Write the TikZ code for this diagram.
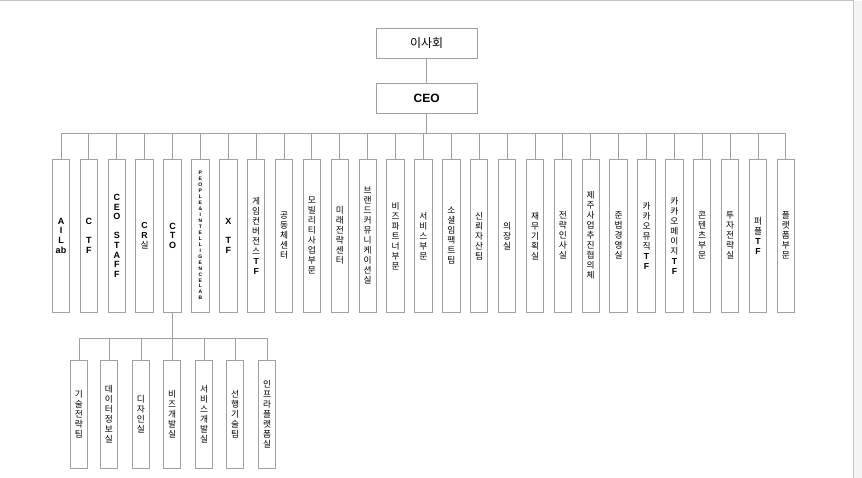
\documentclass[tikz,border=0pt]{standalone}
\usepackage{fontspec}
\setmainfont{Noto Sans CJK KR}
\newfontfamily\latfont{Liberation Sans}
\definecolor{boxgray}{HTML}{A0A0A0}
\definecolor{pagegray}{HTML}{C4C4C4}
\definecolor{sidegray}{HTML}{F4F4F4}
\newcommand\eng[1]{{\latfont\bfseries #1}}
\tikzset{
  unit/.style={draw=boxgray, line width=1pt, minimum width=17.4pt, minimum height=153.3pt,
    inner sep=0pt, align=center, font=\fontsize{8.7}{10}\selectfont},
  subunit/.style={unit, minimum height=108pt},
  latin/.style={font=\fontsize{9}{9.6}\selectfont\latfont\bfseries},
  head/.style={draw=boxgray, line width=1pt, minimum width=101.3pt, minimum height=30pt,
    inner sep=0pt, font=\fontsize{12}{14}\selectfont},
  link/.style={draw=boxgray, line width=1pt},
}
\begin{document}
\begin{tikzpicture}[x=1pt, y=-1pt]
    \useasboundingbox (0,0) rectangle (862,478) ;
    % page edge
    \fill [sidegray] (853.5,1) rectangle (862,478) ;
    \draw [pagegray, line width=1pt] (0,1) -- (853,1) -- (853,478) ;

    \node [head] (board) at (426.7,43.3) {이사회} ;
    \node [head, font=\fontsize{12}{14}\selectfont\latfont\bfseries] (ceo) at (426.7,98.3) {CEO} ;

    % first row
    \node [unit, latin] (ailab) at (61.0,235.7) {A\\I\\L\\ab} ;
    \node [unit, latin] (ctf) at (88.9,235.7) {C\\~\\T\\F} ;
    \node [unit, latin] (staff) at (116.8,235.7) {C\\E\\O\\~\\S\\T\\A\\F\\F} ;
    \node [unit] (cr) at (144.6,235.7) {\eng{C}\\\eng{R}\\실} ;
    \node [unit, latin] (cto) at (172.5,235.7) {C\\T\\O} ;
    \node [unit, font=\fontsize{5}{5.95}\selectfont\latfont\bfseries] (pil) at (200.4,235.7)
        {P\\E\\O\\P\\L\\E\\\&\\I\\N\\T\\E\\L\\L\\I\\G\\E\\N\\C\\E\\L\\A\\B} ;
    \node [unit, latin] (xtf) at (228.3,235.7) {X\\~\\T\\F} ;
    \node [unit] (game) at (256.2,235.7) {게\\임\\컨\\버\\전\\스\\\eng{T}\\\eng{F}} ;
    \node [unit] (comm) at (284.0,235.7) {공\\동\\체\\센\\터} ;
    \node [unit] (mobil) at (311.9,235.7) {모\\빌\\리\\티\\사\\업\\부\\문} ;
    \node [unit] (future) at (339.8,235.7) {미\\래\\전\\략\\센\\터} ;
    \node [unit] (brand) at (367.7,235.7) {브\\랜\\드\\커\\뮤\\니\\케\\이\\션\\실} ;
    \node [unit] (biz) at (395.6,235.7) {비\\즈\\파\\트\\너\\부\\문} ;
    \node [unit] (service) at (423.4,235.7) {서\\비\\스\\부\\문} ;
    \node [unit] (social) at (451.3,235.7) {소\\셜\\임\\팩\\트\\팀} ;
    \node [unit] (trust) at (479.2,235.7) {신\\뢰\\자\\산\\팀} ;
    \node [unit] (chair) at (507.1,235.7) {의\\장\\실} ;
    \node [unit] (finance) at (535.0,235.7) {재\\무\\기\\획\\실} ;
    \node [unit] (hr) at (562.8,235.7) {전\\략\\인\\사\\실} ;
    \node [unit] (jeju) at (590.7,235.7) {제\\주\\사\\업\\추\\진\\협\\의\\체} ;
    \node [unit] (comply) at (618.6,235.7) {준\\법\\경\\영\\실} ;
    \node [unit] (music) at (646.5,235.7) {카\\카\\오\\뮤\\직\\\eng{T}\\\eng{F}} ;
    \node [unit] (page) at (674.4,235.7) {카\\카\\오\\페\\이\\지\\\eng{T}\\\eng{F}} ;
    \node [unit] (content) at (702.2,235.7) {콘\\텐\\츠\\부\\문} ;
    \node [unit] (invest) at (730.1,235.7) {투\\자\\전\\략\\실} ;
    \node [unit] (purple) at (758.0,235.7) {퍼\\플\\\eng{T}\\\eng{F}} ;
    \node [unit] (plat) at (785.9,235.7) {플\\랫\\폼\\부\\문} ;

    % second row under CTO
    \node [subunit] (tech) at (79.0,414.3) {기\\술\\전\\략\\팀} ;
    \node [subunit] (data) at (109.0,414.3) {데\\이\\터\\정\\보\\실} ;
    \node [subunit] (design) at (141.0,414.3) {디\\자\\인\\실} ;
    \node [subunit] (bizdev) at (172.0,414.3) {비\\즈\\개\\발\\실} ;
    \node [subunit] (svcdev) at (204.0,414.3) {서\\비\\스\\개\\발\\실} ;
    \node [subunit] (adv) at (235.0,414.3) {선\\행\\기\\술\\팀} ;
    \node [subunit] (infra) at (267.0,414.3) {인\\프\\라\\플\\랫\\폼\\실} ;

    % connectors
    \coordinate (bus) at (426.7,133.5) ;
    \coordinate (subbus) at (172.5,338.3) ;
    \draw [link] (board) -- (ceo) ;
    \draw [link] (ceo) -- (ceo |- bus) ;
    \draw [link] (ailab.north |- bus) -- (plat.north |- bus) ;
    \draw [link] (ailab.north) -- (ailab.north |- bus) ;
    \draw [link] (ctf.north) -- (ctf.north |- bus) ;
    \draw [link] (staff.north) -- (staff.north |- bus) ;
    \draw [link] (cr.north) -- (cr.north |- bus) ;
    \draw [link] (cto.north) -- (cto.north |- bus) ;
    \draw [link] (pil.north) -- (pil.north |- bus) ;
    \draw [link] (xtf.north) -- (xtf.north |- bus) ;
    \draw [link] (game.north) -- (game.north |- bus) ;
    \draw [link] (comm.north) -- (comm.north |- bus) ;
    \draw [link] (mobil.north) -- (mobil.north |- bus) ;
    \draw [link] (future.north) -- (future.north |- bus) ;
    \draw [link] (brand.north) -- (brand.north |- bus) ;
    \draw [link] (biz.north) -- (biz.north |- bus) ;
    \draw [link] (service.north) -- (service.north |- bus) ;
    \draw [link] (social.north) -- (social.north |- bus) ;
    \draw [link] (trust.north) -- (trust.north |- bus) ;
    \draw [link] (chair.north) -- (chair.north |- bus) ;
    \draw [link] (finance.north) -- (finance.north |- bus) ;
    \draw [link] (hr.north) -- (hr.north |- bus) ;
    \draw [link] (jeju.north) -- (jeju.north |- bus) ;
    \draw [link] (comply.north) -- (comply.north |- bus) ;
    \draw [link] (music.north) -- (music.north |- bus) ;
    \draw [link] (page.north) -- (page.north |- bus) ;
    \draw [link] (content.north) -- (content.north |- bus) ;
    \draw [link] (invest.north) -- (invest.north |- bus) ;
    \draw [link] (purple.north) -- (purple.north |- bus) ;
    \draw [link] (plat.north) -- (plat.north |- bus) ;

    \draw [link] (cto.south) -- (cto.south |- subbus) ;
    \draw [link] (tech.north |- subbus) -- (infra.north |- subbus) ;
    \draw [link] (tech.north) -- (tech.north |- subbus) ;
    \draw [link] (data.north) -- (data.north |- subbus) ;
    \draw [link] (design.north) -- (design.north |- subbus) ;
    \draw [link] (bizdev.north) -- (bizdev.north |- subbus) ;
    \draw [link] (svcdev.north) -- (svcdev.north |- subbus) ;
    \draw [link] (adv.north) -- (adv.north |- subbus) ;
    \draw [link] (infra.north) -- (infra.north |- subbus) ;
\end{tikzpicture}
\end{document}
